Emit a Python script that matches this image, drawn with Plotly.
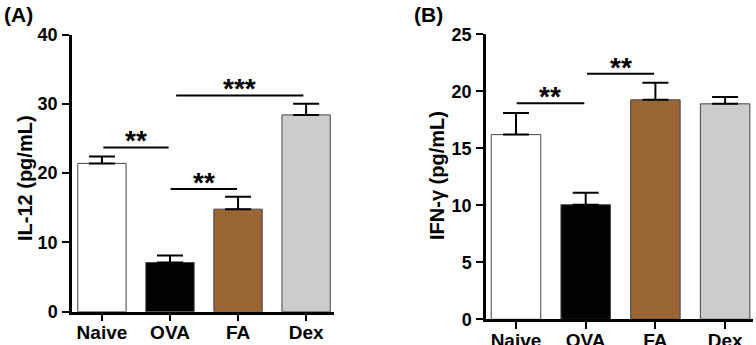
import plotly.graph_objects as go

categories = ["Naive", "OVA", "FA", "Dex"]
bar_colors = ["#ffffff", "#000000", "#9a6535", "#cccccc"]

il12_mean = [21.4, 7.1, 14.8, 28.4]
il12_err = [1.0, 1.0, 1.8, 1.6]
il12_ticks = [0, 10, 20, 30, 40]

ifng_mean = [16.2, 10.05, 19.25, 18.9]
ifng_err = [1.9, 1.05, 1.5, 0.6]
ifng_ticks = [0, 5, 10, 15, 20, 25]

# significance brackets: (x0, x1, y, label)
il12_sig = [(0.02, 0.98, 23.7, "**"), (1.01, 1.985, 17.7, "**"), (1.09, 2.96, 31.2, "***")]
ifng_sig = [(0.01, 0.98, 18.95, "**"), (1.02, 1.98, 21.55, "**")]

W, H = 756, 345
FONT = "Liberation Sans, Arial, sans-serif"

fig = go.Figure()

def add_panel(means, errs, xa, ya):
    fig.add_trace(go.Bar(
        x=categories, y=means, xaxis=xa, yaxis=ya,
        marker=dict(color=bar_colors, line=dict(color="#444444", width=1)),
        width=0.71,
        error_y=dict(type="data", array=errs, arrayminus=[0]*len(errs), symmetric=False,
                     color="#000000", thickness=2, width=13),
        showlegend=False, hoverinfo="skip",
    ))

add_panel(il12_mean, il12_err, "x", "y")
add_panel(ifng_mean, ifng_err, "x2", "y2")

def px_x(p):
    return p / W

def px_y(p):
    return (H - p) / H

axis_common = dict(showline=True, linecolor="#000000", linewidth=2.5, ticks="outside",
                   ticklen=7, tickwidth=2, tickcolor="#000000", showgrid=False, zeroline=False,
                   automargin=False,
                   tickfont=dict(family=FONT, size=18, color="#000000", weight="bold"))
xfont = dict(family=FONT, size=19, color="#000000", weight="bold")
x_common = {k: v for k, v in axis_common.items() if k != "tickfont"}

fig.update_layout(
    width=W, height=H, margin=dict(l=0, r=0, t=0, b=0, autoexpand=False),
    paper_bgcolor="#ffffff", plot_bgcolor="#ffffff",
    xaxis=dict(domain=[px_x(72), px_x(334)], range=[-0.44, 3.41], anchor="y",
               tickfont=xfont, ticklabelstandoff=-5, **x_common),
    yaxis=dict(domain=[px_y(311.7), px_y(34.5)], range=[0, 40], tickvals=il12_ticks, anchor="x",
               ticklabelstandoff=1, **axis_common),
    xaxis2=dict(domain=[px_x(486), px_x(753)], range=[-0.43, 3.40], anchor="y2",
                tickfont=xfont, ticklabelstandoff=-5, **x_common),
    yaxis2=dict(domain=[px_y(319.3), px_y(34.3)], range=[0, 25], tickvals=ifng_ticks, anchor="x2",
                ticklabelstandoff=1, **axis_common),
)

annotations = []
shapes = []
for sig, xr, yr in [(il12_sig, "x", "y"), (ifng_sig, "x2", "y2")]:
    for x0, x1, y, lab in sig:
        shapes.append(dict(type="line", xref=xr, yref=yr, x0=x0, x1=x1, y0=y, y1=y,
                           line=dict(color="#000000", width=2)))
        annotations.append(dict(xref=xr, yref=yr, x=(x0 + x1) / 2, y=y, text=lab, showarrow=False,
                                yanchor="bottom", yshift=-11,
                                font=dict(family=FONT, size=28, color="#000000", weight="bold")))

annotations += [
    dict(xref="paper", yref="paper", x=px_x(25), y=px_y(178), text="IL-12 (pg/mL)", textangle=-90,
         showarrow=False, xanchor="center", yanchor="middle",
         font=dict(family=FONT, size=20, color="#000000", weight="bold")),
    dict(xref="paper", yref="paper", x=px_x(437), y=px_y(176), text="IFN-γ (pg/mL)", textangle=-90,
         showarrow=False, xanchor="center", yanchor="middle",
         font=dict(family=FONT, size=20, color="#000000", weight="bold")),
    dict(xref="paper", yref="paper", x=px_x(18), y=px_y(14), text="(A)", showarrow=False,
         xanchor="center", yanchor="middle",
         font=dict(family=FONT, size=21, color="#000000", weight="bold")),
    dict(xref="paper", yref="paper", x=px_x(428), y=px_y(15), text="(B)", showarrow=False,
         xanchor="center", yanchor="middle",
         font=dict(family=FONT, size=21, color="#000000", weight="bold")),
]

fig.update_layout(annotations=annotations, shapes=shapes)
fig.write_html("out.html", config={"displayModeBar": False},
               post_script="document.body.style.margin='0';document.body.style.overflow='hidden';")
